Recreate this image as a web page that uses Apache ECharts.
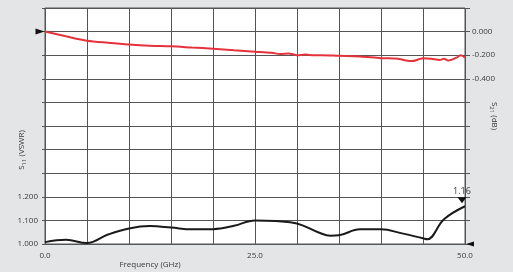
<!DOCTYPE html>
<html>
<head>
<meta charset="utf-8">
<script src="https://cdn.jsdelivr.net/npm/echarts@6/dist/echarts.min.js"></script>
<style>
  html, body { margin: 0; padding: 0; background: #e4e5e6; }
  #chart { width: 513px; height: 272px; }
</style>
</head>
<body>
<div id="chart"></div>
<script>
// S21 insertion loss (dB)
const s21Freq = [0, 2.5, 5, 7.5, 10, 12.5, 15, 17.5, 20, 22.5, 25, 27, 28, 29, 30, 31, 32, 33, 35, 37.5, 40, 42, 43, 43.7, 44.5, 45, 46, 47, 47.5, 48, 49, 49.5, 50];
const s21Vals = [0, -0.04, -0.077, -0.095, -0.11, -0.12, -0.125, -0.135, -0.145, -0.158, -0.17, -0.18, -0.19, -0.185, -0.2, -0.195, -0.2, -0.2, -0.205, -0.21, -0.225, -0.23, -0.245, -0.25, -0.235, -0.225, -0.23, -0.24, -0.23, -0.245, -0.22, -0.2, -0.22];

// S11 VSWR
const vswrFreq = [0, 2.5, 5, 7.5, 10, 12.5, 15, 17.5, 20, 22.5, 25, 27.5, 30, 32.5, 34, 35, 37.5, 40, 42.5, 45, 45.5, 47.5, 50];
const vswrVals = [1.008, 1.018, 1.004, 1.04, 1.066, 1.076, 1.07, 1.062, 1.063, 1.077, 1.10, 1.097, 1.087, 1.05, 1.035, 1.037, 1.062, 1.062, 1.045, 1.024, 1.02, 1.105, 1.16];

const xLabels = [0, 25, 50];
const leftLabels = [1.0, 1.1, 1.2];
const rightLabels = [0, -0.2, -0.4];
const peakValue = 1.16;

function zip(xs, ys) {
    return xs.map(function (x, i) { return [x, ys[i]]; });
}

let chart = echarts.init(document.getElementById('chart'));
const gridColor = '#555';
const textStyle = { color: '#3a3a3a', fontSize: 8, fontFamily: 'Open Sans' };

let option = {
    backgroundColor: '#e4e5e6',
    animation: false,
    grid: { left: 45, right: 48, top: 8, bottom: 28, show: true, backgroundColor: '#fff', borderColor: gridColor, borderWidth: 1 },
    xAxis: {
        type: 'value', min: 0, max: 50, interval: 5,
        axisLine: { show: false },
        axisTick: { show: true, length: 4, lineStyle: { color: gridColor } },
        splitLine: { show: true, lineStyle: { color: gridColor, width: 1 } },
        axisLabel: Object.assign({
            margin: 8,
            formatter: function (v) { return xLabels.indexOf(v) >= 0 ? v.toFixed(1) : ''; }
        }, textStyle)
    },
    yAxis: [
        {
            type: 'value', min: 1.0, max: 2.0, interval: 0.1, position: 'left',
            axisLine: { show: false },
            axisTick: { show: true, length: 3, lineStyle: { color: gridColor } },
            splitLine: { show: true, lineStyle: { color: gridColor, width: 1 } },
            axisLabel: Object.assign({
                margin: 7,
                formatter: function (v) {
                    return leftLabels.some(function (l) { return Math.abs(l - v) < 1e-6; }) ? v.toFixed(3) : '';
                }
            }, textStyle)
        },
        {
            type: 'value', min: -1.8, max: 0.2, interval: 0.2, position: 'right',
            axisLine: { show: false },
            axisTick: { show: true, length: 5, lineStyle: { color: gridColor } },
            splitLine: { show: false },
            axisLabel: Object.assign({
                margin: 7,
                formatter: function (v) {
                    if (!rightLabels.some(function (l) { return Math.abs(l - v) < 1e-6; })) return '';
                    return Math.abs(v) < 1e-6 ? '0.000' : '-' + Math.abs(v).toFixed(3);
                }
            }, textStyle)
        }
    ],
    series: [
        {
            name: 'S21', type: 'line', yAxisIndex: 1, smooth: 0.3, showSymbol: false,
            data: zip(s21Freq, s21Vals),
            lineStyle: { color: '#e5323b', width: 2 },
            markPoint: {
                symbol: 'triangle', symbolSize: [6, 9], symbolRotate: -90, symbolOffset: [-5, 0],
                itemStyle: { color: '#111' }, label: { show: false },
                data: [{ coord: [0, 0] }]
            }
        },
        {
            name: 'S11', type: 'line', yAxisIndex: 0, smooth: 0.4, showSymbol: false,
            data: zip(vswrFreq, vswrVals),
            lineStyle: { color: '#1a1a1a', width: 2 },
            markPoint: {
                symbol: 'triangle', itemStyle: { color: '#111' },
                data: [
                    {
                        coord: [50, 1.0], symbolSize: [5, 8], symbolRotate: 90, symbolOffset: [5, 0],
                        label: { show: false }
                    },
                    {
                        coord: [50, peakValue], symbolSize: [9, 6], symbolRotate: 180, symbolOffset: [-3, -6],
                        label: Object.assign({ show: true, position: 'top', distance: 1, formatter: peakValue.toFixed(2) }, textStyle, { fontSize: 9 })
                    }
                ]
            }
        }
    ],
    graphic: [
        {
            type: 'text', x: 22, y: 150, rotation: Math.PI / 2,
            style: {
                text: '{a|S}{s|11}{a| (VSWR)}', align: 'center', verticalAlign: 'middle',
                rich: {
                    a: { fontSize: 8, fontFamily: 'Open Sans', fill: '#3a3a3a' },
                    s: { fontSize: 6, fontFamily: 'Open Sans', fill: '#3a3a3a', padding: [4, 0, 0, 0] }
                }
            }
        },
        {
            type: 'text', x: 494, y: 116, rotation: -Math.PI / 2,
            style: {
                text: '{a|S}{s|21}{a| (dB)}', align: 'center', verticalAlign: 'middle',
                rich: {
                    a: { fontSize: 8, fontFamily: 'Open Sans', fill: '#3a3a3a' },
                    s: { fontSize: 6, fontFamily: 'Open Sans', fill: '#3a3a3a', padding: [4, 0, 0, 0] }
                }
            }
        },
        {
            type: 'text', x: 150, y: 265,
            style: { text: 'Frequency (GHz)', align: 'center', verticalAlign: 'middle', fontSize: 8, fontFamily: 'Open Sans', fill: '#3a3a3a' }
        }
    ]
};

option && chart.setOption(option);
</script>
</body>
</html>
